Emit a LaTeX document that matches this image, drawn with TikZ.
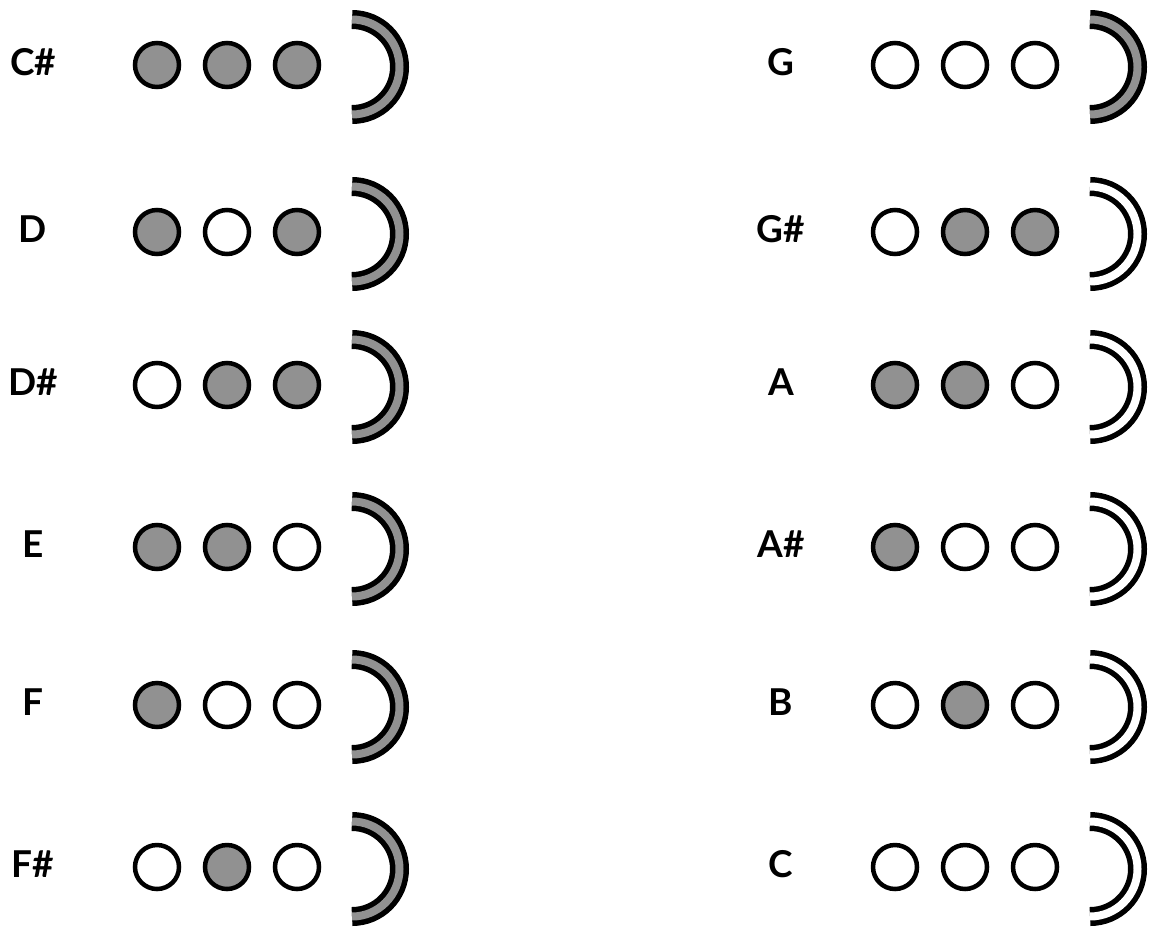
\documentclass[tikz,border=0pt]{standalone}
\usepackage{fontspec}
\newfontfamily\notefont{Lato Bold}
\usetikzlibrary{positioning}
\definecolor{keygray}{RGB}{145,145,145}
\tikzset{
  hole/.style={draw, circle, line width=4.5pt, minimum size=44pt, inner sep=0pt, outer sep=0pt, fill=white},
  shut/.style={hole, fill=keygray},
  note/.style={font=\notefont\fontsize{37}{37}\selectfont, inner sep=0pt},
  bellshut/.style={line width=5.5pt, double=keygray, double distance=8pt},
  bellopen/.style={line width=5.5pt, double=white, double distance=8pt}
}
\begin{document}
\begin{tikzpicture}[x=1pt,y=1pt]
\useasboundingbox (0,0) rectangle (1150,-926);
% left column
\node[note] (lCs) at (33,-62) {C\#};
\node[shut] (Cs1) at (157,-65) {};
\node[shut, right=26pt of Cs1] (Cs2) {};
\node[shut, right=26pt of Cs2] (Cs3) {};
\draw[bellshut] ([shift={(55pt,45.5pt)}]Cs3.center) arc[start angle=90, end angle=-90, radius=47.5pt];

\node[note] (lD) at (33,-229) {D};
\node[shut] (D1) at (157,-232) {};
\node[hole, right=26pt of D1] (D2) {};
\node[shut, right=26pt of D2] (D3) {};
\draw[bellshut] ([shift={(55pt,45.5pt)}]D3.center) arc[start angle=90, end angle=-90, radius=47.5pt];

\node[note] (lDs) at (33,-382) {D\#};
\node[hole] (Ds1) at (157,-385) {};
\node[shut, right=26pt of Ds1] (Ds2) {};
\node[shut, right=26pt of Ds2] (Ds3) {};
\draw[bellshut] ([shift={(55pt,45.5pt)}]Ds3.center) arc[start angle=90, end angle=-90, radius=47.5pt];

\node[note] (lE) at (33,-544) {E};
\node[shut] (E1) at (157,-547) {};
\node[shut, right=26pt of E1] (E2) {};
\node[hole, right=26pt of E2] (E3) {};
\draw[bellshut] ([shift={(55pt,45.5pt)}]E3.center) arc[start angle=90, end angle=-90, radius=47.5pt];

\node[note] (lF) at (33,-702) {F};
\node[shut] (F1) at (157,-705) {};
\node[hole, right=26pt of F1] (F2) {};
\node[hole, right=26pt of F2] (F3) {};
\draw[bellshut] ([shift={(55pt,45.5pt)}]F3.center) arc[start angle=90, end angle=-90, radius=47.5pt];

\node[note] (lFs) at (33,-864) {F\#};
\node[hole] (Fs1) at (157,-867) {};
\node[shut, right=26pt of Fs1] (Fs2) {};
\node[hole, right=26pt of Fs2] (Fs3) {};
\draw[bellshut] ([shift={(55pt,45.5pt)}]Fs3.center) arc[start angle=90, end angle=-90, radius=47.5pt];

% right column
\node[note] (lG) at (781,-62) {G};
\node[hole] (G1) at (895,-65) {};
\node[hole, right=26pt of G1] (G2) {};
\node[hole, right=26pt of G2] (G3) {};
\draw[bellshut] ([shift={(55pt,45.5pt)}]G3.center) arc[start angle=90, end angle=-90, radius=47.5pt];

\node[note] (lGs) at (781,-229) {G\#};
\node[hole] (Gs1) at (895,-232) {};
\node[shut, right=26pt of Gs1] (Gs2) {};
\node[shut, right=26pt of Gs2] (Gs3) {};
\draw[bellopen] ([shift={(55pt,45.5pt)}]Gs3.center) arc[start angle=90, end angle=-90, radius=47.5pt];

\node[note] (lA) at (781,-382) {A};
\node[shut] (A1) at (895,-385) {};
\node[shut, right=26pt of A1] (A2) {};
\node[hole, right=26pt of A2] (A3) {};
\draw[bellopen] ([shift={(55pt,45.5pt)}]A3.center) arc[start angle=90, end angle=-90, radius=47.5pt];

\node[note] (lAs) at (781,-544) {A\#};
\node[shut] (As1) at (895,-547) {};
\node[hole, right=26pt of As1] (As2) {};
\node[hole, right=26pt of As2] (As3) {};
\draw[bellopen] ([shift={(55pt,45.5pt)}]As3.center) arc[start angle=90, end angle=-90, radius=47.5pt];

\node[note] (lB) at (781,-702) {B};
\node[hole] (B1) at (895,-705) {};
\node[shut, right=26pt of B1] (B2) {};
\node[hole, right=26pt of B2] (B3) {};
\draw[bellopen] ([shift={(55pt,45.5pt)}]B3.center) arc[start angle=90, end angle=-90, radius=47.5pt];

\node[note] (lC) at (781,-864) {C};
\node[hole] (C1) at (895,-867) {};
\node[hole, right=26pt of C1] (C2) {};
\node[hole, right=26pt of C2] (C3) {};
\draw[bellopen] ([shift={(55pt,45.5pt)}]C3.center) arc[start angle=90, end angle=-90, radius=47.5pt];
\end{tikzpicture}
\end{document}
